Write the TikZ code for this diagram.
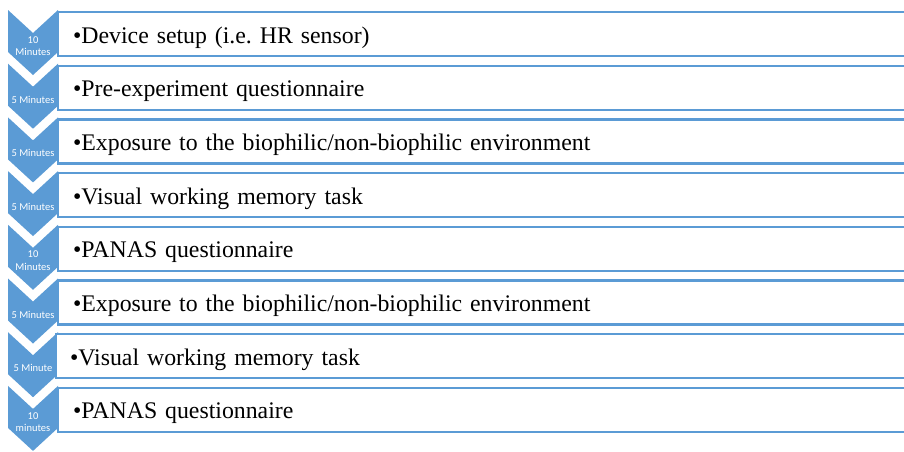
\documentclass[tikz,border=0pt]{standalone}
\usepackage{fontspec}
\setmainfont{Liberation Serif}
\newfontfamily\chevfont{Carlito}
\usepackage{tikz}
\usetikzlibrary{positioning}
\frenchspacing

\definecolor{chevblue}{HTML}{5B9BD5}

\begin{document}
\begin{tikzpicture}[x=1pt, y=-1pt, node distance=53.7pt, on grid,
    chevron/.style={fill=chevblue},
    chevlabel/.style={text=white, font=\chevfont\fontsize{10.5}{12.5}\selectfont, align=center, inner sep=0pt},
    rowbox/.style={draw=chevblue, line width=2.2pt, fill=white, minimum height=44pt,
        text width=830pt, text height=22pt, text depth=4pt, inner xsep=15pt, inner ysep=0pt,
        align=left, font=\fontsize{23.8}{28}\selectfont}]

   \useasboundingbox (0,0) rectangle (904,451);
   \clip (0,0) rectangle (904,451);

   % chevrons down the left side
   \fill[chevron] (8,10)    -- ++(25,23) -- ++(25,-23) -- ++(0,42) -- ++(-25,23) -- ++(-25,-23) -- cycle;
   \fill[chevron] (8,63.7)  -- ++(25,23) -- ++(25,-23) -- ++(0,42) -- ++(-25,23) -- ++(-25,-23) -- cycle;
   \fill[chevron] (8,117.4) -- ++(25,23) -- ++(25,-23) -- ++(0,42) -- ++(-25,23) -- ++(-25,-23) -- cycle;
   \fill[chevron] (8,171.1) -- ++(25,23) -- ++(25,-23) -- ++(0,42) -- ++(-25,23) -- ++(-25,-23) -- cycle;
   \fill[chevron] (8,224.8) -- ++(25,23) -- ++(25,-23) -- ++(0,42) -- ++(-25,23) -- ++(-25,-23) -- cycle;
   \fill[chevron] (8,278.5) -- ++(25,23) -- ++(25,-23) -- ++(0,42) -- ++(-25,23) -- ++(-25,-23) -- cycle;
   \fill[chevron] (8,332.2) -- ++(25,23) -- ++(25,-23) -- ++(0,42) -- ++(-25,23) -- ++(-25,-23) -- cycle;
   \fill[chevron] (8,385.9) -- ++(25,23) -- ++(25,-23) -- ++(0,42) -- ++(-25,23) -- ++(-25,-23) -- cycle;

   \node[chevlabel] (t1) at (33,46)    {10\\Minutes};
   \node[chevlabel] (t2) at (33,99.7)  {5 Minutes};
   \node[chevlabel] (t3) at (33,153.4) {5 Minutes};
   \node[chevlabel] (t4) at (33,207.1) {5 Minutes};
   \node[chevlabel] (t5) at (33,260.8) {10\\Minutes};
   \node[chevlabel] (t6) at (33,314.5) {5 Minutes};
   \node[chevlabel] (t7) at (33,368.2) {5 Minute};
   \node[chevlabel] (t8) at (33,421.9) {10\\minutes};

   % steps
   \node[rowbox, anchor=west] (r1) at (57,34) {•Device setup (i.e. HR sensor)};
   \node[rowbox] (r2) [below=of r1] {•Pre-experiment questionnaire};
   \node[rowbox] (r3) [below=of r2] {•Exposure to the biophilic/non-biophilic environment};
   \node[rowbox] (r4) [below=of r3] {•Visual working memory task};
   \node[rowbox] (r5) [below=of r4] {•PANAS questionnaire};
   \node[rowbox] (r6) [below=of r5] {•Exposure to the biophilic/non-biophilic environment};
   \node[rowbox, inner xsep=14pt] (r7) [below=of r6, xshift=-3pt] {•Visual working memory task};
   \node[rowbox] (r8) [below=of r7, xshift=3pt] {•PANAS questionnaire};

\end{tikzpicture}
\end{document}
